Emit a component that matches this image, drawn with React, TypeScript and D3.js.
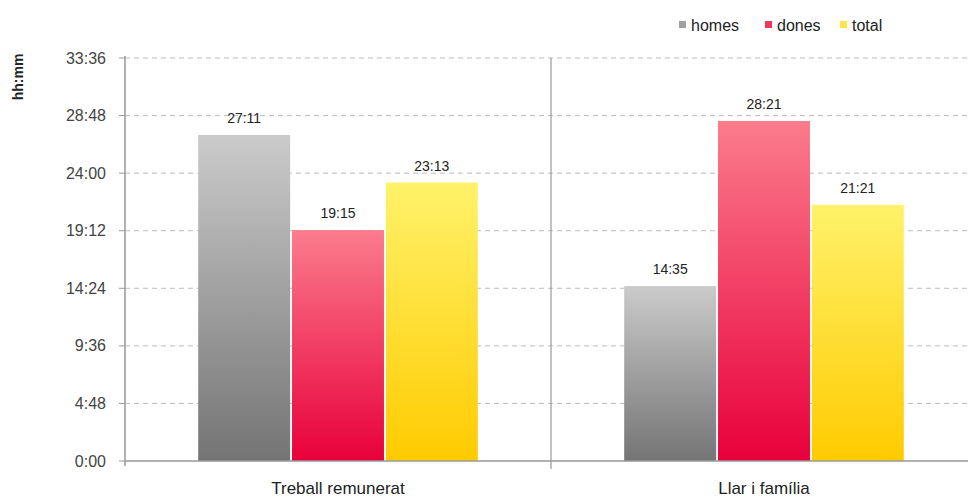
import React from "react";
import * as d3 from "d3";

const categories = ["Treball remunerat", "Llar i família"];
const series = ["homes", "dones", "total"];
const homes = ["27:11", "14:35"];
const dones = ["19:15", "28:21"];
const total = ["23:13", "21:21"];
const yTicks = ["0:00", "4:48", "9:36", "14:24", "19:12", "24:00", "28:48", "33:36"];

const toMin = (s: string) => {
  const [h, m] = s.split(":").map(Number);
  return h * 60 + m;
};

const W = 968;
const H = 500;
const left = 125;
const right = 977;
const top = 58;
const bottom = 461;

export default function App() {
  const values = [homes, dones, total];
  const x0 = d3.scaleBand<string>().domain(categories).range([left, right]).paddingInner(0).paddingOuter(0);
  const x1 = d3.scaleBand<string>().domain(series).range([0, x0.bandwidth()]).paddingInner(0.02).paddingOuter(0.78);
  const y = d3.scaleLinear().domain([0, toMin("33:36")]).range([bottom, top]);
  const grads = [
    { id: "g0", top: "#cbcbcb", bot: "#747474" },
    { id: "g1", top: "#fb7c8c", bot: "#e8003b" },
    { id: "g2", top: "#fff26a", bot: "#ffcb00" },
  ];
  const legendColors = ["#a0a0a0", "#f0365a", "#fde54a"];
  const legendX = [679, 765, 840];
  const font = "'Liberation Sans', Arial, sans-serif";

  return (
    <svg width={W} height={H} style={{ position: "fixed", left: 0, top: 0, background: "#fff" }} fontFamily={font}>
      <defs>
        {grads.map((g) => (
          <linearGradient key={g.id} id={g.id} x1="0" y1="0" x2="0" y2="1">
            <stop offset="0" stopColor={g.top} />
            <stop offset="1" stopColor={g.bot} />
          </linearGradient>
        ))}
      </defs>
      {yTicks.map((t) => (
        <g key={t}>
          {t !== "0:00" && (
            <line x1={left} x2={W} y1={y(toMin(t))} y2={y(toMin(t))} stroke="#bdbdbd" strokeDasharray="5,4" strokeWidth={1} />
          )}
          <line x1={left - 6} x2={left} y1={y(toMin(t))} y2={y(toMin(t))} stroke="#999" strokeWidth={1} />
          <text x={106} y={y(toMin(t))} dy="0.35em" textAnchor="end" fontSize={16} fill="#444">
            {t}
          </text>
        </g>
      ))}
      {categories.map((c, ci) => (
        <g key={c}>
          {series.map((s, si) => {
            const v = toMin(values[si][ci]);
            const bx = (x0(c) ?? 0) + (x1(s) ?? 0);
            const bw = x1.bandwidth();
            return (
              <g key={s}>
                <rect x={bx} y={y(v)} width={bw} height={bottom - y(v)} fill={`url(#${grads[si].id})`} />
                <text x={bx + bw / 2} y={y(v) - 12} textAnchor="middle" fontSize={14} fill="#222">
                  {values[si][ci]}
                </text>
              </g>
            );
          })}
          <text x={(x0(c) ?? 0) + x0.bandwidth() / 2} y={494} textAnchor="middle" fontSize={17} fill="#222">
            {c}
          </text>
        </g>
      ))}
      <line x1={left} x2={left} y1={top - 2} y2={bottom + 5} stroke="#999" strokeWidth={1.5} />
      <line x1={left} x2={W} y1={bottom} y2={bottom} stroke="#999" strokeWidth={1.5} />
      <line x1={left + x0.bandwidth()} x2={left + x0.bandwidth()} y1={top} y2={bottom + 8} stroke="#999" strokeWidth={1.2} />
      <text transform={`translate(23,77) rotate(-90)`} textAnchor="middle" fontSize={14} fontWeight="bold" fill="#222">
        hh:mm
      </text>
      {series.map((s, i) => (
        <g key={s}>
          <rect x={legendX[i]} y={21} width={7} height={7} fill={legendColors[i]} />
          <text x={legendX[i] + 12} y={25} dy="0.35em" fontSize={16} fill="#222">
            {s}
          </text>
        </g>
      ))}
    </svg>
  );
}
